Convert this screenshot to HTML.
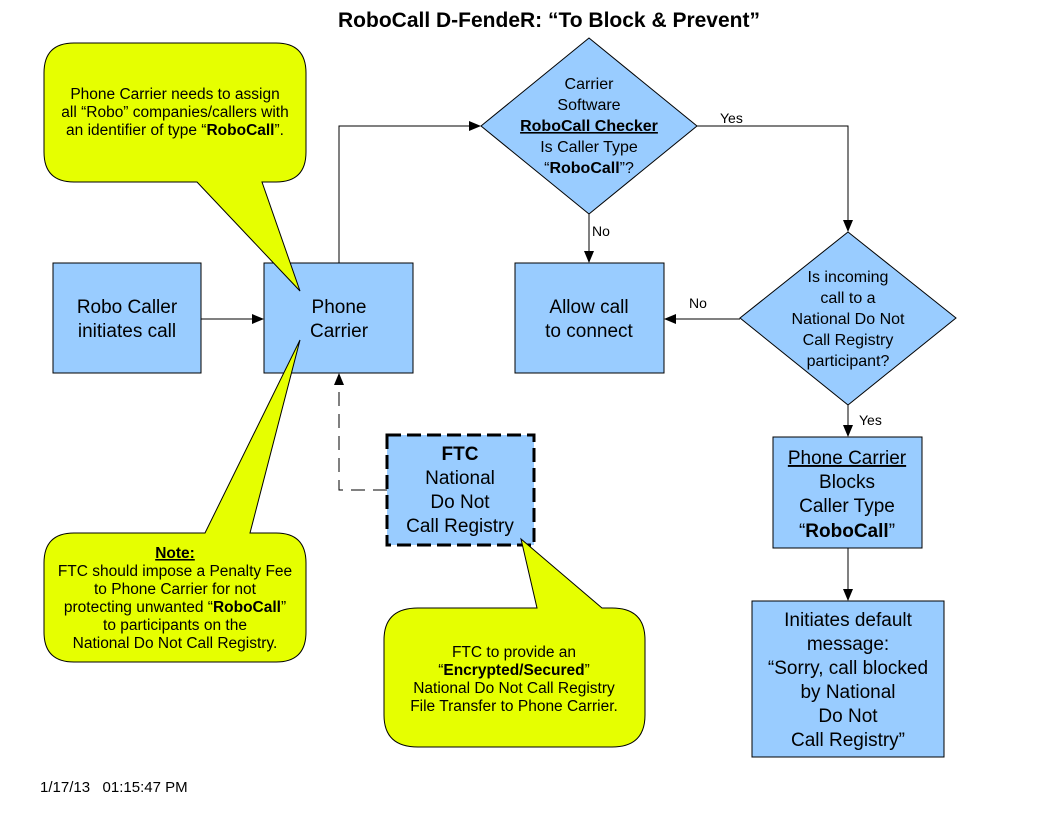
<!DOCTYPE html>
<html><head><meta charset="utf-8"><style>
html,body{margin:0;padding:0;background:#fff}
svg{display:block}
text{font-family:"Liberation Sans",sans-serif;fill:#000}
</style></head><body>
<svg width="1056" height="816" viewBox="0 0 1056 816" xmlns="http://www.w3.org/2000/svg">
<defs><marker id="a" markerWidth="12" markerHeight="10" refX="11" refY="5" orient="auto" markerUnits="userSpaceOnUse"><path d="M0,0 L12,5 L0,10 Z" fill="#000"/></marker></defs>
<text x="549" y="27" font-size="21" font-weight="bold" text-anchor="middle">RoboCall D-FendeR: “To Block &amp; Prevent”</text>

<!-- boxes -->
<g fill="#99ccff" stroke="#000" stroke-width="1">
<rect x="53" y="263" width="148" height="110"/>
<rect x="264" y="263" width="149" height="110"/>
<rect x="515" y="263" width="149" height="110"/>
<rect x="773" y="437" width="149" height="111"/>
<rect x="752" y="601" width="192" height="156"/>
<polygon points="589,38 697,126 589,214 481,126"/>
<polygon points="848,232 956,318 848,405 740,318"/>
<rect x="387" y="435" width="147" height="110" stroke-width="3" stroke-dasharray="14,6"/>
</g>

<!-- connectors -->
<g stroke="#000" stroke-width="1" fill="none">
<line x1="201" y1="319" x2="263" y2="319" marker-end="url(#a)"/>
<polyline points="339,263 339,126 480,126" marker-end="url(#a)"/>
<polyline points="697,126 848,126 848,231" marker-end="url(#a)"/>
<line x1="589" y1="214" x2="589" y2="262" marker-end="url(#a)"/>
<line x1="740" y1="319" x2="665" y2="319" marker-end="url(#a)"/>
<line x1="848" y1="405" x2="848" y2="436" marker-end="url(#a)"/>
<line x1="848" y1="548" x2="848" y2="600" marker-end="url(#a)"/>
<polyline points="387,490 339,490 339,374" stroke-dasharray="14,8" marker-end="url(#a)"/>
</g>
<g font-size="14"><text x="720" y="123">Yes</text><text x="592" y="236">No</text><text x="689" y="308">No</text><text x="859" y="425">Yes</text></g>

<!-- box texts -->
<g font-size="19" text-anchor="middle">
<text x="127" y="313">Robo Caller</text><text x="127" y="337">initiates call</text>
<text x="339" y="313">Phone</text><text x="339" y="337">Carrier</text>
<text x="589" y="313">Allow call</text><text x="589" y="337">to connect</text>
<text x="847" y="464" text-decoration="underline">Phone Carrier</text><text x="847" y="488">Blocks</text><text x="847" y="512">Caller Type</text><text x="847" y="537">“<tspan font-weight="bold">RoboCall</tspan>”</text>
<text x="848" y="626">Initiates default</text><text x="848" y="650">message:</text><text x="848" y="674">“Sorry, call blocked</text><text x="848" y="698">by National</text><text x="848" y="722">Do Not</text><text x="848" y="746">Call Registry”</text>
<text x="460" y="460" font-weight="bold">FTC</text><text x="460" y="484">National</text><text x="460" y="508">Do Not</text><text x="460" y="532">Call Registry</text>
</g>
<g font-size="16" text-anchor="middle">
<text x="589" y="89">Carrier</text><text x="589" y="110">Software</text><text x="589" y="131" font-weight="bold" text-decoration="underline">RoboCall Checker</text><text x="589" y="152">Is Caller Type</text><text x="589" y="173">“<tspan font-weight="bold">RoboCall</tspan>”?</text>
<text x="848" y="282">Is incoming</text><text x="848" y="303">call to a</text><text x="848" y="324">National Do Not</text><text x="848" y="345">Call Registry</text><text x="848" y="366">participant?</text>
</g>

<!-- callout 1 -->
<path d="M74,43 H276 Q306,43 306,73 V152 Q306,182 276,182 H262 L300,291 L197,182 H74 Q44,182 44,152 V73 Q44,43 74,43 Z" fill="#e6ff00" stroke="#000" stroke-width="1"/>
<g font-size="15.5" text-anchor="middle"><text x="175" y="99">Phone Carrier needs to assign</text><text x="175" y="117">all “Robo” companies/callers with</text><text x="175" y="135">an identifier of type “<tspan font-weight="bold">RoboCall</tspan>”.</text></g>

<!-- callout 2 -->
<path d="M74,533 H205 L300,340 L250,533 H276 Q306,533 306,563 V632 Q306,662 276,662 H74 Q44,662 44,632 V563 Q44,533 74,533 Z" fill="#e6ff00" stroke="#000" stroke-width="1"/>
<g font-size="15.5" text-anchor="middle"><text x="175" y="558" font-weight="bold" text-decoration="underline">Note:</text><text x="175" y="576">FTC should impose a Penalty Fee</text><text x="175" y="594">to Phone Carrier for not</text><text x="175" y="612">protecting unwanted “<tspan font-weight="bold">RoboCall</tspan>”</text><text x="175" y="630">to participants on the</text><text x="175" y="648">National Do Not Call Registry.</text></g>

<!-- callout 3 -->
<path d="M418,608 H537 L521,539 L602,608 H612 Q645,608 645,640 V715 Q645,747 612,747 H418 Q384,747 384,715 V640 Q384,608 418,608 Z" fill="#e6ff00" stroke="#000" stroke-width="1"/>
<g font-size="15.5" text-anchor="middle"><text x="514" y="657">FTC to provide an</text><text x="514" y="675">“<tspan font-weight="bold">Encrypted/Secured</tspan>”</text><text x="514" y="693">National Do Not Call Registry</text><text x="514" y="711">File Transfer to Phone Carrier.</text></g>

<text x="40" y="792" font-size="15" xml:space="preserve" style="white-space:pre">1/17/13   01:15:47 PM</text>
</svg>
</body></html>
